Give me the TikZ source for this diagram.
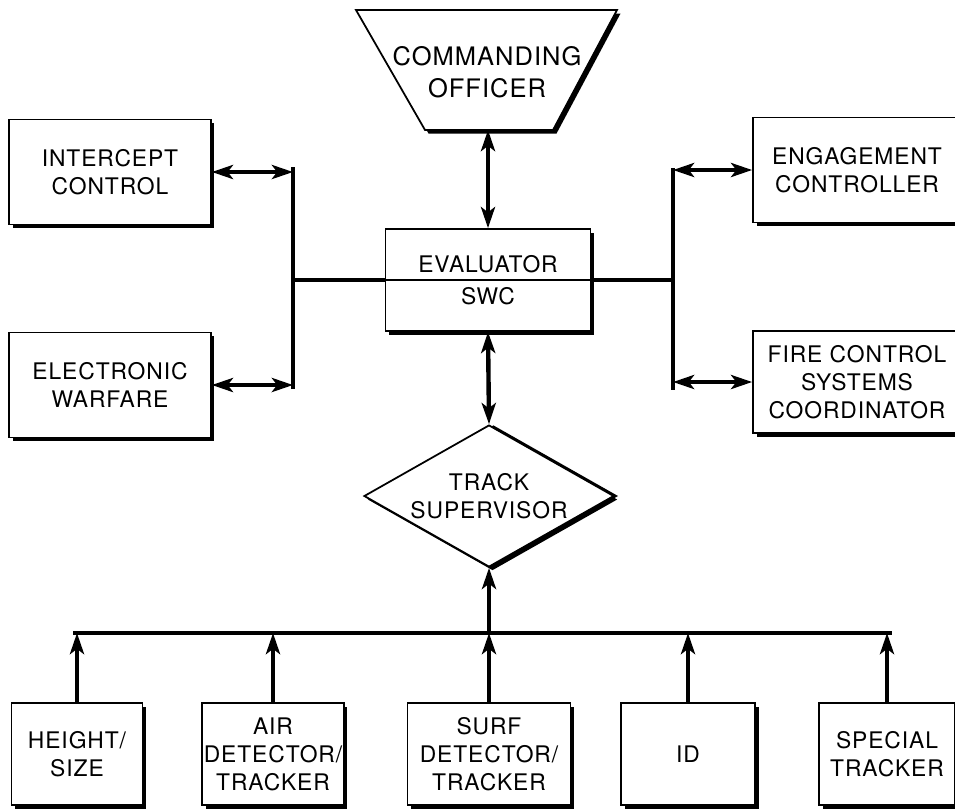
\documentclass[tikz,border=0pt]{standalone}
\usepackage{fontspec}
\newfontfamily\lblfont{TeX Gyre Heros}[LetterSpace=4]
\newcommand{\lbl}{\lblfont\fontsize{13}{16}\selectfont}
\newcommand{\lblbig}{\lblfont\fontsize{14.5}{18}\selectfont}
\usetikzlibrary{arrows.meta,shapes.geometric,shadows}
\tikzset{
	blk/.style={draw,line width=1pt,fill=white,align=center,font=\lbl,inner xsep=1pt,
		drop shadow={shadow xshift=2pt,shadow yshift=-2pt,opacity=1,fill=black}},
	trap/.style={draw,line width=1pt,fill=white,
		drop shadow={shadow xshift=2pt,shadow yshift=-2pt,opacity=1,fill=black}},
	bus/.style={line width=2.5pt},
	link/.style={line width=2.5pt,{Stealth[length=12pt,width=8pt,inset=3pt]}-{Stealth[length=12pt,width=8pt,inset=3pt]}},
	feed/.style={line width=2.5pt,-{Stealth[length=12pt,width=8pt,inset=3pt]}},
}
\begin{document}
\begin{tikzpicture}[x=0.02cm,y=-0.02cm]
	\useasboundingbox (0,0) rectangle (955,809);
	% commanding officer
	\coordinate (cotl) at (356,10);
	\coordinate (cotr) at (617,10);
	\coordinate (cobr) at (553,130);
	\coordinate (cobl) at (425,130);
	\coordinate (cobot) at (488,130);
	\path[trap] (cotl) -- (cotr) -- (cobr) -- (cobl) -- cycle;
	\node[font=\lblbig,align=center] (co) at (487,72) {COMMANDING\\OFFICER};
	% evaluator
	\node[blk,minimum width=4.1cm,minimum height=2.04cm] (eval) at (488,280) {};
	\draw[line width=.6pt] (eval.west) -- (eval.east);
	\node[font=\lbl,above,inner sep=4pt] (evaltop) at (eval.center) {EVALUATOR};
	\node[font=\lbl,below,inner sep=4pt] (evalbot) at (eval.center) {SWC};
	% side boxes
	\node[blk,minimum width=4.04cm,minimum height=2.1cm] (icept) at (110,172) {INTERCEPT\\CONTROL};
	\node[blk,minimum width=4.04cm,minimum height=2.1cm] (ewar) at (110,385) {ELECTRONIC\\WARFARE};
	\node[blk,minimum width=4.16cm,minimum height=2.1cm] (engage) at (857,170) {ENGAGEMENT\\CONTROLLER};
	\node[blk,minimum width=4.16cm,minimum height=2.04cm] (fcsc) at (857,382) {FIRE CONTROL\\SYSTEMS\\COORDINATOR};
	% track supervisor
	\node[blk,diamond,aspect=1.76,inner sep=0pt,minimum width=5cm,minimum height=2.84cm,
		drop shadow={shadow xshift=2.5pt,shadow yshift=0pt,opacity=1,fill=black}] (tsup) at (489,496) {TRACK\\SUPERVISOR};
	% sensors
	\node[blk,minimum width=2.62cm,minimum height=2.04cm] (hsize) at (77,754) {HEIGHT/\\SIZE};
	\node[blk,minimum width=2.7cm,minimum height=2.04cm] (airdt) at (273,754) {AIR\\DETECTOR/\\TRACKER};
	\node[blk,minimum width=3.26cm,minimum height=2.04cm] (surfdt) at (489,754) {SURF\\DETECTOR/\\TRACKER};
	\node[blk,minimum width=2.68cm,minimum height=2.04cm] (idbox) at (688,754) {ID};
	\node[blk,minimum width=2.72cm,minimum height=2.04cm] (spectr) at (887,754) {SPECIAL\\TRACKER};
	% left bus
	\coordinate (lbtop) at (293,167);
	\coordinate (lbbot) at (293,389);
	\draw[bus] (lbtop) -- (lbbot);
	\draw[bus] (eval.west) -- (eval.west -| lbtop);
	\draw[link] (icept.east) -- (icept.east -| lbtop);
	\draw[link] (ewar.east) -- (ewar.east -| lbtop);
	% right bus
	\coordinate (rbtop) at (673,168);
	\coordinate (rbbot) at (673,390);
	\draw[bus] (rbtop) -- (rbbot);
	\draw[bus] (eval.east) -- (eval.east -| rbtop);
	\draw[link] (engage.west -| rbtop) -- (engage.west);
	\draw[link] (fcsc.west -| rbtop) -- (fcsc.west);
	% vertical links
	\draw[link] (cobot) -- (eval.north);
	\draw[link] (eval.south) -- (tsup.north);
	% track bus
	\coordinate (bbl) at (73,633);
	\coordinate (bbr) at (892,633);
	\draw[bus] (bbl) -- (bbr);
	\draw[feed] (bbl -| tsup.south) -- (tsup.south);
	\foreach \n in {hsize,airdt,surfdt,idbox,spectr}
		\draw[feed] (\n.north) -- (\n.north |- bbl);
\end{tikzpicture}
\end{document}
